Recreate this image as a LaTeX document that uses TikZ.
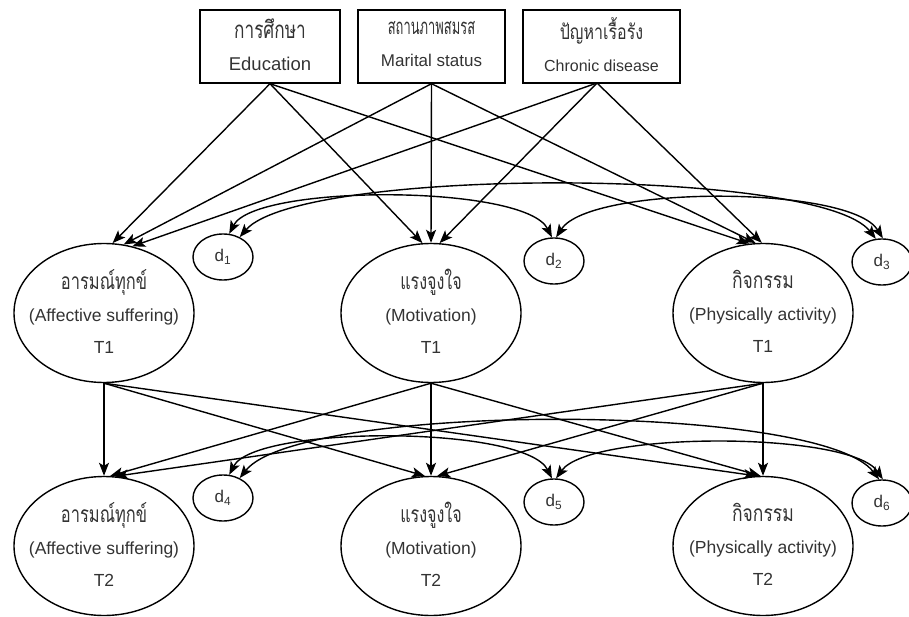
\documentclass[tikz,border=0pt]{standalone}
\usepackage{fontspec}
\usepackage{graphicx}
\setmainfont{Liberation Sans}
\newfontfamily\thai[Script=Thai]{Loma}
% Thai lines are set in Loma, stretched upright to a taller letter shape
\newcommand{\thaitxt}[2][1]{\scalebox{#1}[1.3]{\thai #2}}
\usetikzlibrary{shapes.geometric,arrows.meta}

\tikzset{
  every picture/.style={line width=1.4pt},
  varbox/.style={draw, rectangle, minimum height=73pt, inner sep=0pt},
  boxtext/.style={align=center, inner sep=0pt, text=black!80, yshift=2pt},
  latent/.style={draw, ellipse, minimum width=180pt, minimum height=139pt, inner sep=0pt},
  dist/.style={draw, ellipse, minimum width=60pt, minimum height=46pt, inner sep=0pt,
    font=\fontsize{17}{20}\selectfont, text=black!80},
  lbl/.style={align=center, inner sep=0pt, text=black!80, yshift=1.5pt,
    font=\fontsize{17.5}{32}\selectfont},
  path/.style={-{Stealth[length=13pt,width=10pt,inset=3pt]}},
  cov/.style={{Stealth[length=13pt,width=10pt,inset=3pt]}-{Stealth[length=13pt,width=10pt,inset=3pt]}}
}

\begin{document}
\begin{tikzpicture}[x=1pt,y=-1pt]
\useasboundingbox (0,0) rectangle (909,617);

% exogenous variables
\node[varbox, minimum width=140pt] (edu) at (270,46.5) {};
\node[varbox, minimum width=147pt] (mar) at (431.5,46.5) {};
\node[varbox, minimum width=157pt] (chr) at (601.5,46.5) {};
\node[boxtext, font=\fontsize{18.5}{32}\selectfont] (edut) at (edu)
  {\thaitxt[0.93]{การศึกษา}\\Education};
\node[boxtext, font=\fontsize{17}{32}\selectfont] (mart) at (mar)
  {\thaitxt[0.76]{สถานภาพสมรส}\\Marital status};
\node[boxtext, font=\fontsize{16}{32}\selectfont] (chrt) at (chr)
  {\thaitxt{ปัญหาเรื้อรัง}\\Chronic disease};
\coordinate (chrs) at (597,83);

% latent variables, time 1
\node[latent] (a1) at (104,313) {};
\node[latent] (m1) at (431,313) {};
\node[latent] (p1) at (763,313) {};
\node[lbl] (a1t) at (a1) {\thaitxt[0.94]{อารมณ์ทุกข์}\\(Affective suffering)\\T1};
\node[lbl] (m1t) at (m1) {\thaitxt[0.92]{แรงจูงใจ}\\(Motivation)\\T1};
\node[lbl] (p1t) at (p1) {\thaitxt{กิจกรรม}\\(Physically activity)\\T1};

% latent variables, time 2
\node[latent] (a2) at (104,546) {};
\node[latent] (m2) at (431,546) {};
\node[latent] (p2) at (763,546) {};
\node[lbl] (a2t) at (a2) {\thaitxt[0.94]{อารมณ์ทุกข์}\\(Affective suffering)\\T2};
\node[lbl] (m2t) at (m2) {\thaitxt[0.92]{แรงจูงใจ}\\(Motivation)\\T2};
\node[lbl] (p2t) at (p2) {\thaitxt{กิจกรรม}\\(Physically activity)\\T2};

% disturbances
\node[dist] (d1) at (223,257) {d\textsubscript{1}};
\node[dist] (d2) at (554,261) {d\textsubscript{2}};
\node[dist] (d3) at (882,262) {d\textsubscript{3}};
\node[dist] (d4) at (223,498) {d\textsubscript{4}};
\node[dist] (d5) at (554,502) {d\textsubscript{5}};
\node[dist] (d6) at (882,503) {d\textsubscript{6}};

% background variables -> time 1
\draw[path] (edu.south) -- (a1.83);
\draw[path] (mar.south) -- (a1.74);
\draw[path] (chrs) -- (a1.67);
\draw[path] (edu.south) -- (m1.97);
\draw[path] (mar.south) -- (m1.north);
\draw[path] (chrs) -- (m1.83);
\draw[path] (edu.south) -- (p1.101);
\draw[path] (mar.south) -- (p1.96);
\draw[path] (chrs) -- (p1.91);

% time 1 -> time 2
\draw[path] (a1.south) -- (a2.north);
\draw[path] (m1.south) -- (a2.85);
\draw[path] (p1.south) -- (a2.81);
\draw[path] (a1.south) -- (m2.95);
\draw[path] (m1.south) -- (m2.north);
\draw[path] (p1.south) -- (m2.85);
\draw[path] (a1.south) -- (p2.95);
\draw[path] (m1.south) -- (p2.92);
\draw[path] (p1.south) -- (p2.north);

% disturbance covariances, time 1
\draw[cov] (d1.75) .. controls (255,184) and (525,184) .. (d2.95);
\draw[cov] (d1.50) .. controls (300,167) and (820,167) .. (d3.105);
\draw[cov] (d2.85) .. controls (590,185) and (850,185) .. (d3.88);

% disturbance covariances, time 2
\draw[cov] (d4.75) .. controls (255,425) and (525,425) .. (d5.95);
\draw[cov] (d4.50) .. controls (300,402) and (820,402) .. (d6.97);
\draw[cov] (d5.85) .. controls (590,431) and (850,431) .. (d6.88);
\end{tikzpicture}
\end{document}
